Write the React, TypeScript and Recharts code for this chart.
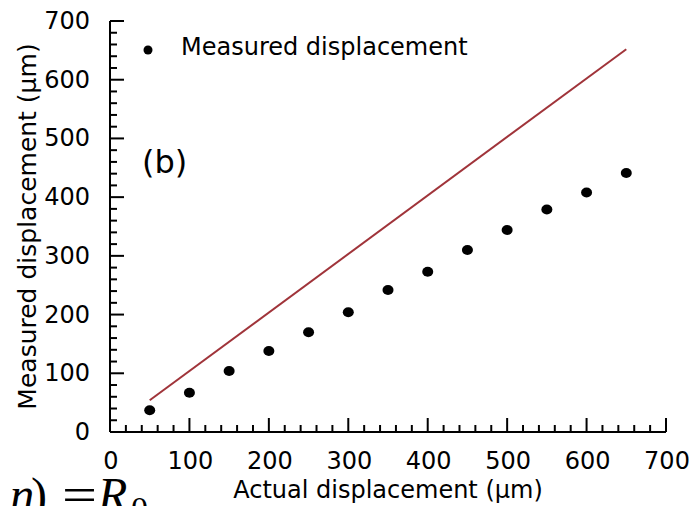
import React from 'react';
import { ScatterChart, Scatter, XAxis, YAxis, Legend, Customized } from 'recharts';

// actual vs measured displacement, µm
const actualDisp = [50, 100, 150, 200, 250, 300, 350, 400, 450, 500, 550, 600, 650];
const measuredDisp = [37, 67, 104, 138, 170, 204, 242, 273, 310, 344, 379, 408, 441];

// reference (ideal) line end points
const idealX = [50, 650];
const idealY = [54, 652];

const tickLabels = [0, 100, 200, 300, 400, 500, 600, 700];
const axisTicks = [
  0, 20, 40, 60, 80, 100, 120, 140, 160, 180, 200, 220, 240, 260, 280, 300, 320, 340,
  360, 380, 400, 420, 440, 460, 480, 500, 520, 540, 560, 580, 600, 620, 640, 660, 680, 700,
];

const measuredData = actualDisp.map((x, i) => ({ x, y: measuredDisp[i] }));
const idealData = idealX.map((x, i) => ({ x, y: idealY[i] }));

const FONT = '"DejaVu Sans", sans-serif';

const XTick = ({ x, y, payload }: any) => {
  const major = tickLabels.includes(payload.value);
  return (
    <g>
      <line x1={x} x2={x} y1={y} y2={y - (major ? 14 : 7)} stroke="#000" strokeWidth={2} />
      {major && (
        <text x={x + 1} y={y + 29} textAnchor="middle" dominantBaseline="central" fontSize={24} fill="#000">
          {payload.value}
        </text>
      )}
    </g>
  );
};

const YTick = ({ x, y, payload }: any) => {
  const major = tickLabels.includes(payload.value);
  return (
    <g>
      <line x1={x} x2={x + (major ? 14 : 7)} y1={y} y2={y} stroke="#000" strokeWidth={2} />
      {major && (
        <text x={x - 20} y={y} textAnchor="end" dominantBaseline="central" fontSize={24} fill="#000">
          {payload.value}
        </text>
      )}
    </g>
  );
};

const Dot = ({ cx, cy }: any) => <ellipse cx={cx} cy={cy} rx={5.5} ry={5} fill="#000" />;

// panel tag and the cropped equation fragment at the bottom edge
const Extras = () => (
  <g>
    <text x={142} y={173} fontSize={32} fill="#000" style={{ fontFamily: FONT }}>
      (b)
    </text>
    <text y={511} fill="#000" style={{ fontFamily: '"Liberation Serif", serif' }} fontSize={48}>
      <tspan x={10} fontStyle="italic">η</tspan>
      <tspan x={31}>)</tspan>
      <tspan x={62} textLength={35} lengthAdjust="spacingAndGlyphs">=</tspan>
      <tspan x={98} fontStyle="italic">R</tspan>
      <tspan x={131} dy={9} fontSize={34}>0</tspan>
    </text>
  </g>
);

const LegendBox = () => (
  <div style={{ display: 'flex', alignItems: 'flex-start', fontFamily: FONT, fontSize: 24, color: '#000', lineHeight: '28px' }}>
    <svg width={16} height={28}>
      <circle cx={8} cy={17} r={4.5} fill="#000" />
    </svg>
    <span style={{ marginLeft: 25, whiteSpace: 'nowrap' }}>Measured displacement</span>
  </div>
);

export default function App() {
  return (
    <div
      style={{
        position: 'absolute',
        left: 0,
        top: 0,
        width: 689,
        height: 506,
        overflow: 'hidden',
        background: '#fff',
        fontFamily: FONT,
      }}
    >
      <ScatterChart width={689} height={506} margin={{ top: 21, right: 23, bottom: 0, left: 0 }}>
        <XAxis
          type="number"
          dataKey="x"
          domain={[0, 700]}
          ticks={axisTicks}
          interval={0}
          tickSize={0}
          tickMargin={0}
          tickLine={false}
          tick={<XTick />}
          axisLine={{ stroke: '#000', strokeWidth: 2 }}
          height={74}
          label={{ value: 'Actual displacement (µm)', position: 'insideBottom', offset: 8, fontSize: 24, fill: '#000' }}
        />
        <YAxis
          type="number"
          dataKey="y"
          domain={[0, 700]}
          ticks={axisTicks}
          interval={0}
          tickSize={0}
          tickMargin={0}
          tickLine={false}
          tick={<YTick />}
          axisLine={{ stroke: '#000', strokeWidth: 2 }}
          width={110}
          label={{
            value: 'Measured displacement (µm)',
            angle: -90,
            position: 'insideLeft',
            offset: 27,
            fontSize: 25,
            fill: '#000',
            style: { textAnchor: 'middle' },
          }}
        />
        <Legend
          layout="vertical"
          align="center"
          verticalAlign="middle"
          wrapperStyle={{ top: 33, left: 140, width: 'auto' }}
          content={() => <LegendBox />}
        />
        <Scatter
          name="Ideal"
          data={idealData}
          line={{ stroke: '#a0343a', strokeWidth: 2 }}
          shape={() => <g />}
          legendType="none"
          isAnimationActive={false}
        />
        <Scatter
          name="Measured displacement"
          data={measuredData}
          fill="#000"
          shape={<Dot />}
          isAnimationActive={false}
        />
        <Customized component={<Extras />} />
      </ScatterChart>
    </div>
  );
}
